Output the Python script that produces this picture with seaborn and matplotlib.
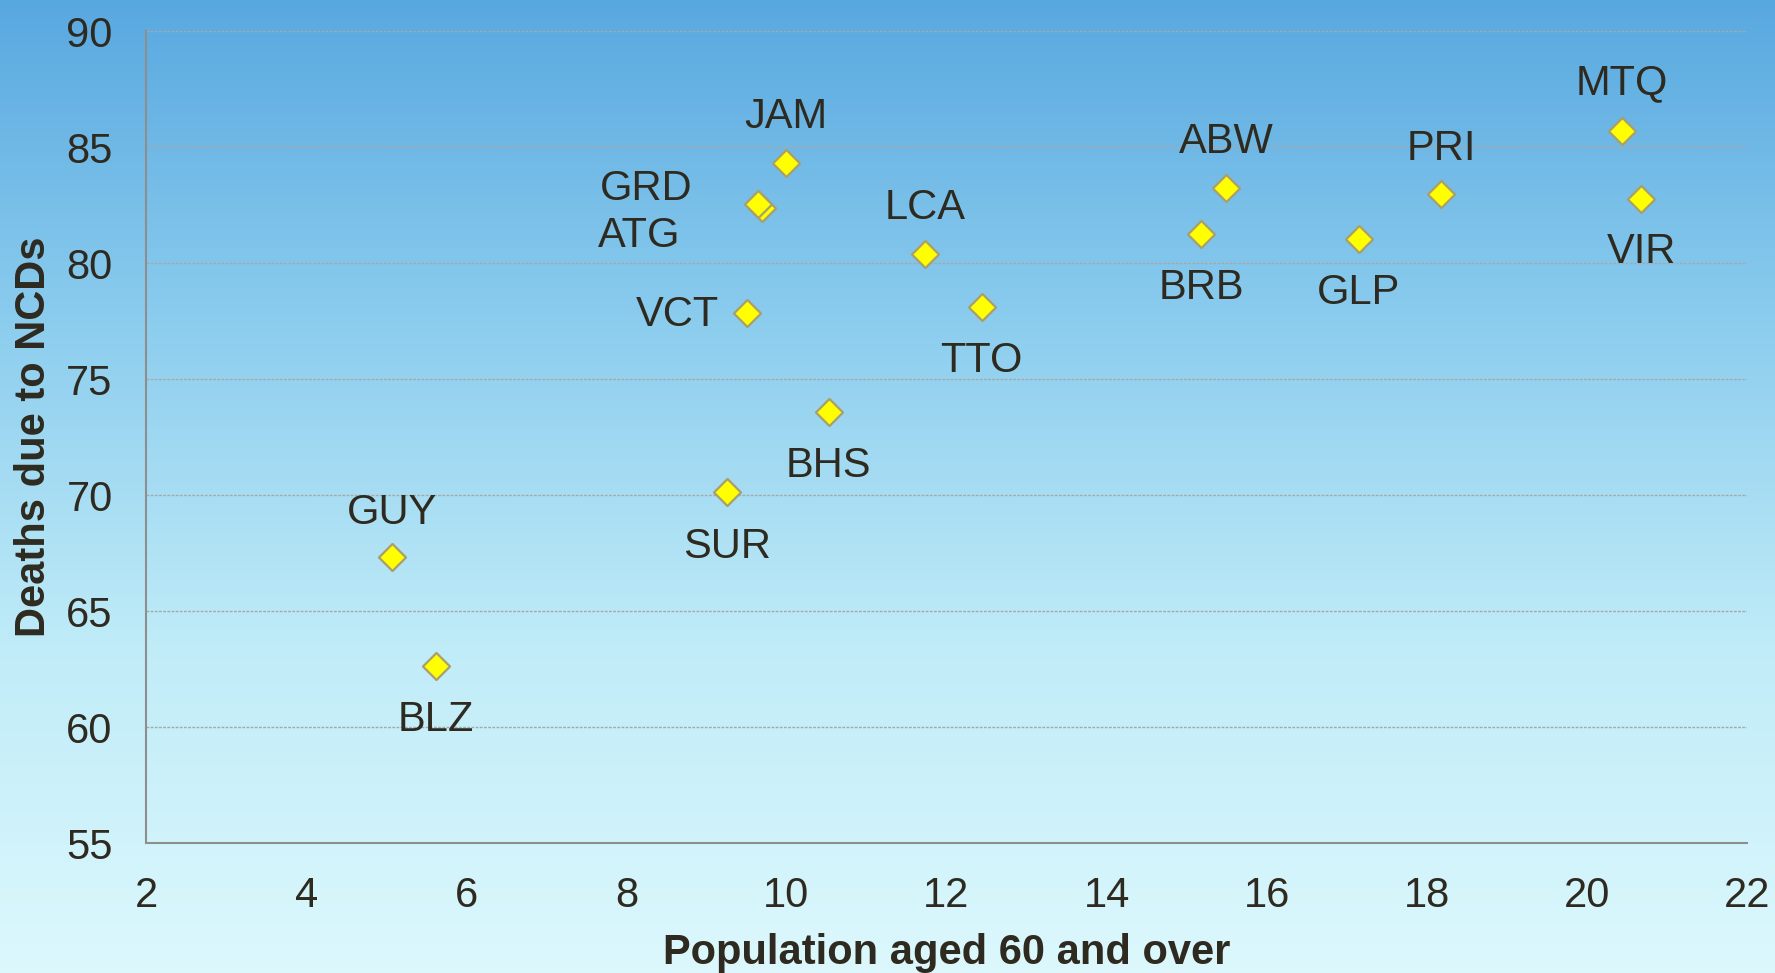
import numpy as np
import pandas as pd
import seaborn as sns
import matplotlib.pyplot as plt
from matplotlib.colors import LinearSegmentedColormap

# data
codes = ["JAM", "ATG", "GRD", "LCA", "VCT", "TTO", "BHS", "SUR", "GUY", "BLZ",
         "ABW", "BRB", "GLP", "PRI", "MTQ", "VIR"]
pop_60_over = [9.99, 9.69, 9.64, 11.73, 9.51, 12.44, 10.53, 9.26, 5.07, 5.62,
               15.49, 15.18, 17.15, 18.18, 20.44, 20.68]
ncd_deaths = [84.3, 82.38, 82.55, 80.4, 77.86, 78.1, 73.57, 70.11, 67.33, 62.65,
              83.22, 81.27, 81.03, 82.98, 85.71, 82.74]

x_ticks = list(range(2, 23, 2))
y_ticks = list(range(55, 91, 5))

# label offsets in points (dx, dy)
label_offset = {
    "JAM": (0, 33), "GRD": (-80, 11), "ATG": (-88, -20), "LCA": (0, 33),
    "VCT": (-50, -2), "TTO": (0, -39), "BHS": (0, -39), "SUR": (0, -39),
    "GUY": (0, 32), "BLZ": (0, -39), "ABW": (0, 33), "BRB": (0, -39),
    "GLP": (0, -39), "PRI": (0, 32), "MTQ": (0, 34), "VIR": (0, -38),
}

df = pd.DataFrame({"code": codes, "pop60": pop_60_over, "ncd": ncd_deaths})

sns.set_style("white")
plt.rcParams["font.family"] = ["Liberation Sans", "DejaVu Sans"]
txt_color = "#2e2a20"
axis_color = "#8e8e8e"
fs = 30

fig = plt.figure(figsize=(17.75, 9.73), dpi=100)

# gradient background over the whole figure
bg = fig.add_axes([0, 0, 1, 1], zorder=-1)
cmap = LinearSegmentedColormap.from_list(
    "bg", ["#58a8e0", "#8ccdee", "#c0ecf8", "#dcf8fd"])
grad = np.linspace(0, 1, 256).reshape(-1, 1)
bg.imshow(grad, aspect="auto", cmap=cmap, extent=[0, 1, 0, 1], origin="upper")
bg.axis("off")

ax = fig.add_axes([0.0823, 0.1336, 0.9019, 0.8345])
ax.set_facecolor("none")

sns.scatterplot(data=df, x="pop60", y="ncd", marker="D", s=190,
                color="#ffff00", edgecolor="#a89f6c", linewidth=1.6,
                ax=ax, zorder=3)

for c, xv, yv in zip(codes, pop_60_over, ncd_deaths):
    dx, dy = label_offset[c]
    ax.annotate(c, (xv, yv), xytext=(dx, dy), textcoords="offset points",
                ha="center", va="center", fontsize=fs, color=txt_color)

ax.set_xlim(2, 22)
ax.set_ylim(55, 90)
ax.set_xticks(x_ticks)
ax.set_yticks(y_ticks)
ax.tick_params(axis="both", labelsize=fs, colors=axis_color, labelcolor=txt_color,
               length=11, width=1.5, direction="out")
ax.tick_params(axis="x", pad=13)
ax.tick_params(axis="y", pad=13)

for yv in y_ticks[1:]:
    ax.axhline(yv, color="#a8a8a8", linewidth=1.0, linestyle=(0, (2, 1)), zorder=1)

for side in ["top", "right"]:
    ax.spines[side].set_visible(False)
for side in ["left", "bottom"]:
    ax.spines[side].set_color(axis_color)
    ax.spines[side].set_linewidth(1.5)

ax.set_xlabel("Population aged 60 and over", fontsize=fs, fontweight="bold",
              color=txt_color, labelpad=12)
ax.set_ylabel("Deaths due to NCDs", fontsize=fs, fontweight="bold",
              color=txt_color, labelpad=9)

plt.savefig("out.png", dpi=100)
